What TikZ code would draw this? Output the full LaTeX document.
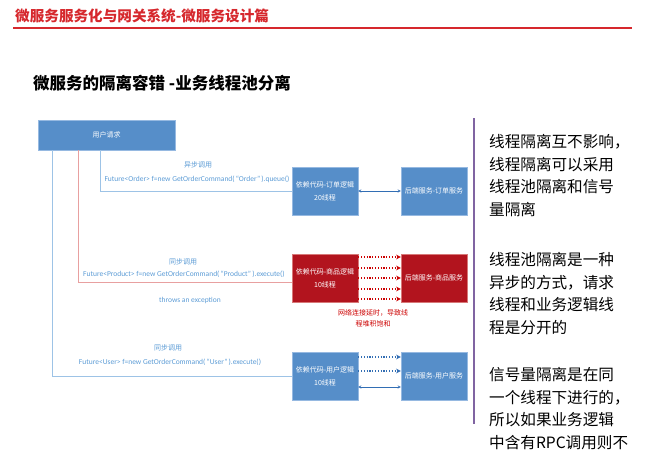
\documentclass[tikz,border=0pt]{standalone}
\usepackage{fontspec}
\setmainfont{Carlito}
\newfontfamily\cjk{Noto Sans CJK SC}
\usepackage{tikz}
\usetikzlibrary{arrows}

\definecolor{headred}{RGB}{214,40,45}
\definecolor{blockblue}{RGB}{86,142,201}
\definecolor{blockedge}{RGB}{150,185,225}
\definecolor{blockred}{RGB}{178,20,30}
\definecolor{rededge}{RGB}{215,120,120}
\definecolor{lineblue}{RGB}{157,195,230}
\definecolor{linered}{RGB}{232,160,160}
\definecolor{textblue}{RGB}{91,155,213}
\definecolor{arrowblue}{RGB}{50,110,180}
\definecolor{sepline}{RGB}{128,100,162}

\tikzstyle{block} = [draw=blockedge, fill=blockblue, text=white, minimum width=66pt, minimum height=48pt, inner sep=1pt, align=center, font=\cjk\fontsize{7}{13}\selectfont]
\tikzstyle{redblock} = [block, draw=rededge, fill=blockred]
\tikzstyle{note} = [text=textblue, inner sep=0pt, font=\fontsize{7.5}{9}\selectfont]
\tikzstyle{link} = [line width=0.9pt]
\tikzstyle{arrow} = [thin,<->,>=stealth, arrowblue]
\tikzstyle{dotarrow} = [line width=1.1pt, dash pattern=on 1.2pt off 1.6pt, ->, >=stealth]
\tikzstyle{para} = [anchor=north west, inner sep=0pt, align=left, font=\cjk\fontsize{15.6}{22.6}\selectfont]

\begin{document}
\begin{tikzpicture}[x=1pt, y=-1pt]
  \useasboundingbox (0,0) rectangle (650,466);

  % Heading and title
  \node[anchor=west, inner sep=0pt, text=headred, font=\cjk\bfseries\fontsize{14.6}{16}\selectfont] (head) at (15,16) {微服务服务化与网关系统-微服务设计篇};
  \draw[headred, line width=1.2pt] (13,28) -- (632,28);
  \node[anchor=west, inner sep=0pt, font=\cjk\bfseries\fontsize{16.5}{18}\selectfont] (title) at (33,83) {微服务的隔离容错 -业务线程池分离};

  % Request box and the three thread pools
  \node[block, minimum width=137pt, minimum height=30pt] (req) at (106.5,135) {用户请求};

  \node[block] (order) at (325,191) {依赖代码-订单逻辑\\20线程};
  \node[block] (orderSvc) at (434,191) {后端服务-订单服务};

  \node[redblock] (product) at (325,278) {依赖代码-商品逻辑\\10线程};
  \node[redblock] (productSvc) at (434,278) {后端服务-商品服务};

  \node[block] (user) at (325,376) {依赖代码-用户逻辑\\10线程};
  \node[block] (userSvc) at (434,376) {后端服务-用户服务};

  % Calls from the request
  \draw[link, lineblue] ([xshift=63pt]req.south west) |- (order.west);
  \draw[link, linered] ([xshift=41pt]req.south west) |- ([yshift=-4pt]product.west);
  \draw[link, lineblue] ([xshift=15pt]req.south west) |- (user.west);

  \node[note, font=\cjk\fontsize{7}{9}\selectfont] (asyncLbl) at (198,165) {异步调用};
  \node[note] (asyncCall) at (197,179) {Future<Order> f=new GetOrderCommand(\,“Order”\,).queue()};
  \node[note, font=\cjk\fontsize{7}{9}\selectfont] (syncLbl) at (183,262) {同步调用};
  \node[note] (syncCall) at (184,274) {Future<Product> f=new GetOrderCommand(\,“Product”\,).execute()};
  \node[note] (throwLbl) at (190,300) {throws an exception};
  \node[note, font=\cjk\fontsize{7}{9}\selectfont] (userLbl) at (168,348) {同步调用};
  \node[note] (userCall) at (170,362) {Future<User> f=new GetOrderCommand(\,“User”\,).execute()};

  % Links to the back-end services
  \draw[arrow] (order.east) -- (orderSvc.west);
  \foreach \dy in {21,10,0,-11,-21}
    \draw[dotarrow, red!80!black] ([yshift=\dy pt]product.east) -- ([yshift=\dy pt]productSvc.west);
  \foreach \dy in {19,5}
    \draw[dotarrow, arrowblue] ([yshift=\dy pt]user.east) -- ([yshift=\dy pt]userSvc.west);
  \draw[arrow] ([yshift=-11pt]user.east) -- ([yshift=-11pt]userSvc.west);

  \node[align=center, inner sep=0pt, text=red!80!black, font=\cjk\fontsize{7}{11}\selectfont] (delay) at (373,318) {网络连接延时，导致线\\程堆积饱和};

  % Separator and notes
  \draw[sepline, line width=1.5pt] (474,118) -- (474,424);
  \node[para] (para1) at (489,134) {线程隔离互不影响，\\线程隔离可以采用\\线程池隔离和信号\\量隔离};
  \node[para] (para2) at (489,252) {线程池隔离是一种\\异步的方式，请求\\线程和业务逻辑线\\程是分开的};
  \node[para] (para3) at (489,367) {信号量隔离是在同\\一个线程下进行的，\\所以如果业务逻辑\\中含有RPC调用则不};
\end{tikzpicture}
\end{document}
